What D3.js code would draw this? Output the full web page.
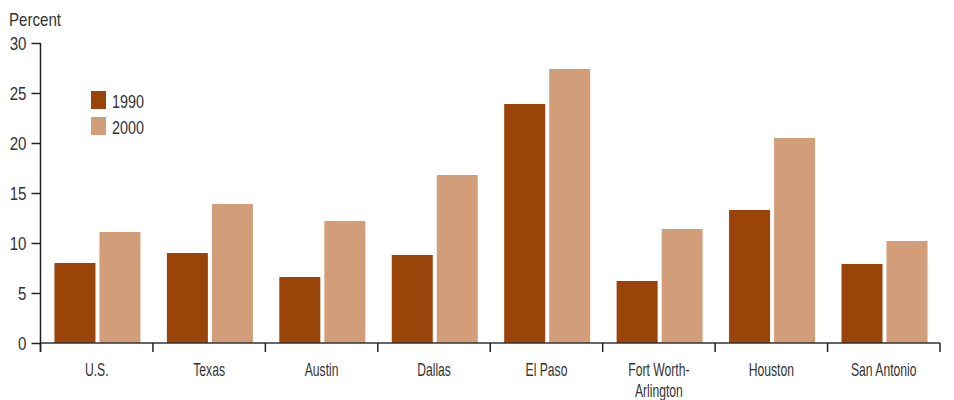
<!DOCTYPE html>
<html><head><meta charset="utf-8">
<script src="https://cdn.jsdelivr.net/npm/d3@7"></script>
<style>
body{margin:0;background:#fff;}
text{font-family:"Liberation Sans",Arial,sans-serif;fill:#333;}
</style></head><body>
<svg id="c" width="954" height="400"></svg>
<script>
const categories = ["U.S.", "Texas", "Austin", "Dallas", "El Paso", "Fort Worth-\nArlington", "Houston", "San Antonio"];
const series = ["1990", "2000"];
const values1990 = [8.0, 9.0, 6.6, 8.8, 23.9, 6.2, 13.3, 7.9];
const values2000 = [11.1, 13.9, 12.2, 16.8, 27.4, 11.4, 20.5, 10.2];
const yTicks = [0, 5, 10, 15, 20, 25, 30];
const colors = ["#9A4409", "#D29E79"];
const yLabel = "Percent";

(function(){
const svg = d3.select("#c");
const mLeft = 40.5, mRight = 940, mTop = 43, mBottom = 343;
const x0 = d3.scaleBand().domain(categories).range([mLeft, mRight]).padding(0);
const bw = x0.bandwidth();
const x1 = d3.scaleBand().domain(series).range([bw*0.124, bw*0.889]).paddingInner(0.089).paddingOuter(0);
const y = d3.scaleLinear().domain([0, 30]).range([mBottom, mTop]);

function cond(sel, s) {
  sel.each(function(){
    const t = d3.select(this);
    const x = +t.attr("x") || 0, yy = +t.attr("y") || 0;
    t.attr("x", 0).attr("y", 0).attr("transform", `translate(${x},${yy}) scale(${s},1)`);
  });
}

const data = categories.map((c, i) => ({cat: c, vals: [values1990[i], values2000[i]]}));

const g = svg.append("g");
g.selectAll("g.grp").data(data).join("g").attr("class","grp")
  .attr("transform", d => `translate(${x0(d.cat)},0)`)
  .selectAll("rect").data(d => d.vals.map((v, j) => ({s: series[j], v, j})))
  .join("rect")
  .attr("x", d => x1(d.s)).attr("width", x1.bandwidth())
  .attr("y", d => y(d.v)).attr("height", d => y(0) - y(d.v))
  .attr("fill", d => colors[d.j]);

// Y axis
const yAxis = svg.append("g").attr("transform", `translate(${mLeft},0)`)
  .call(d3.axisLeft(y).tickValues(yTicks).tickSize(9).tickSizeOuter(0).tickPadding(5));
yAxis.attr("font-family", null).attr("font-size", null);
yAxis.select(".domain").remove();
yAxis.selectAll(".tick line").attr("stroke", "#222").attr("stroke-width", 1.5);
yAxis.selectAll(".tick text").attr("font-size", 18).attr("fill", "#333")
  .attr("x", 0).attr("dy", "0.34em").attr("transform", "translate(-14,0) scale(0.84,1)");
svg.append("line").attr("x1", mLeft).attr("x2", mLeft).attr("y1", mTop).attr("y2", mBottom + 9)
  .attr("stroke", "#222").attr("stroke-width", 1.5);

// X axis
const xTickPos = categories.map(c => x0(c)).concat([mRight]);
svg.append("line").attr("x1", mLeft).attr("x2", mRight).attr("y1", mBottom).attr("y2", mBottom)
  .attr("stroke", "#333").attr("stroke-width", 1.5);
svg.selectAll("line.xt").data(xTickPos).join("line").attr("class","xt")
  .attr("x1", d => d).attr("x2", d => d).attr("y1", mBottom).attr("y2", mBottom + 9)
  .attr("stroke", "#222").attr("stroke-width", 1.5);
svg.selectAll("g.xl").data(categories).join("g").attr("class","xl")
  .attr("transform", d => `translate(${x0(d) + bw/2},376) scale(0.64,1)`)
  .append("text").attr("text-anchor", "middle").attr("font-size", 19)
  .each(function(d){
    d3.select(this).selectAll("tspan").data(d.split("\n")).join("tspan")
      .attr("x", 0).attr("dy", (l, i) => i ? 21 : 0).text(l => l);
  });

// Y label
cond(svg.append("text").attr("x", 9).attr("y", 26).attr("font-size", 18).text(yLabel), 0.84);

// Legend
const lg = svg.append("g");
series.forEach((s, i) => {
  lg.append("rect").attr("x", 91).attr("y", 91 + i*26).attr("width", 15).attr("height", 18).attr("fill", colors[i]);
  cond(lg.append("text").attr("x", 112).attr("y", 108 + i*26).attr("font-size", 18).text(s), 0.8);
});
})();
</script>
</body></html>
